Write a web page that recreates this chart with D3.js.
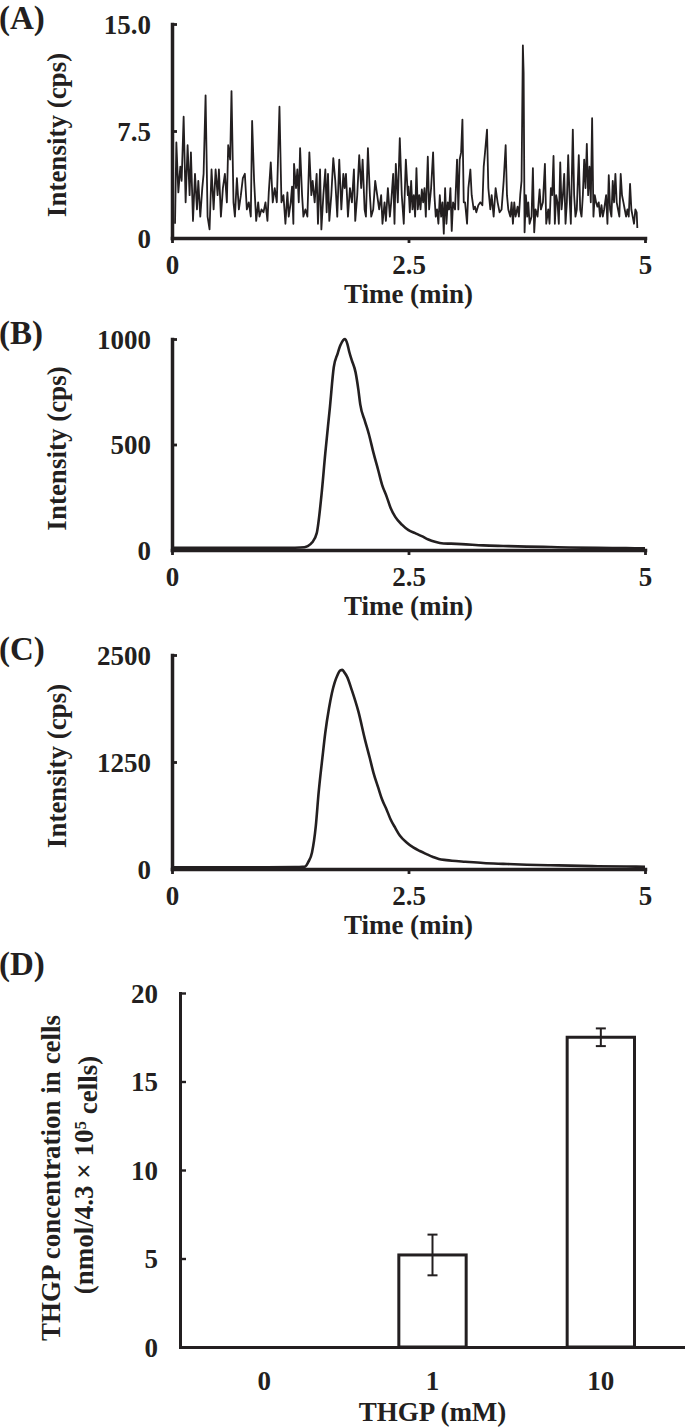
<!DOCTYPE html>
<html><head><meta charset="utf-8">
<script src="https://cdn.jsdelivr.net/npm/d3@7"></script>
<style>body{margin:0;background:#fff}svg{display:block}</style>
</head><body>
<script>
// ---------- DATA ----------
// Panel A: noisy trace (time in min, intensity in cps)
const timeA = [0.032,0.046,0.067,0.088,0.102,0.123,0.144,0.165,0.186,0.200,0.222,0.243,0.264,0.278,0.299,0.320,0.334,0.355,0.376,0.397,0.418,0.440,0.461,0.482,0.496,0.517,0.538,0.559,0.580,0.594,0.615,0.629,0.650,0.665,0.686,0.707,0.728,0.749,0.770,0.791,0.812,0.833,0.847,0.868,0.890,0.911,0.925,0.946,0.967,0.988,1.009,1.023,1.044,1.065,1.086,1.108,1.136,1.157,1.178,1.199,1.220,
1.234,1.255,1.269,1.283,1.290,1.311,1.325,1.340,1.354,1.375,1.389,1.410,1.431,1.452,1.473,1.487,1.508,1.529,1.543,1.565,1.579,1.600,1.621,1.635,1.649,1.663,1.684,1.705,1.726,1.747,1.768,1.790,1.811,1.825,1.839,1.860,1.881,1.902,1.923,1.937,1.958,1.979,2.000,2.015,2.036,2.050,2.071,2.092,2.106,2.127,2.148,2.169,2.190,2.211,2.225,2.247,2.261,2.282,2.303,2.317,2.338,2.352,2.366,2.387,2.408,2.429,2.450,2.472,2.493,
2.500,2.514,2.528,2.542,2.556,2.570,2.584,2.598,2.613,2.627,2.641,2.655,2.669,2.683,2.704,2.718,2.739,2.760,2.774,2.788,2.802,2.816,2.831,2.845,2.859,2.873,2.887,2.901,2.915,2.929,2.943,2.957,2.971,2.992,3.013,3.027,3.041,3.056,3.070,3.084,3.098,3.119,3.133,3.154,3.168,3.189,3.203,3.217,3.238,3.259,3.281,3.295,3.309,3.330,3.344,3.365,3.379,3.400,3.421,3.442,3.463,3.484,3.506,3.527,3.541,3.555,3.576,3.590,3.604,3.618,3.632,3.653,3.667,3.681,3.695,3.709,3.717,3.727,3.741,3.755,
3.766,3.780,3.801,3.815,3.829,3.843,3.864,3.886,3.900,3.921,3.942,3.956,3.977,3.991,4.005,4.019,4.033,4.047,4.061,4.075,4.089,4.104,4.118,4.132,4.146,4.160,4.174,4.188,4.202,4.216,4.237,4.251,4.265,4.279,4.300,4.315,4.329,4.343,4.357,4.371,4.385,4.399,4.413,4.427,4.441,4.455,4.469,4.483,4.497,4.511,4.525,4.540,4.554,4.568,4.589,4.603,4.617,4.631,4.645,4.659,4.673,4.687,4.701,4.715,4.729,4.743,4.757,4.772,4.786,4.800,4.814,4.828,4.842,4.856,4.870,4.884,4.898,4.912,4.919];
const intensityA = [1.0,6.7,3.2,5.0,4.0,8.5,2.5,6.5,3.0,6.0,1.2,4.5,2.0,4.0,1.5,3.5,4.5,10.0,1.5,0.6,4.8,2.0,4.8,3.0,4.8,1.5,3.5,4.5,2.5,6.5,5.5,10.3,2.5,1.5,4.2,2.0,3.0,4.2,4.5,2.0,2.5,1.5,8.2,4.0,1.2,2.5,1.5,2.0,1.8,2.5,1.2,3.2,5.3,2.5,3.5,2.5,9.2,2.5,3.0,1.0,3.2,
1.5,2.5,3.6,1.0,5.2,3.5,4.8,2.5,6.3,3.0,1.5,2.0,1.5,6.0,3.0,4.0,2.5,4.5,1.0,4.8,0.6,3.0,4.8,1.8,4.5,1.2,3.0,5.6,4.0,1.5,5.5,2.0,4.5,3.5,4.5,1.5,3.5,2.5,4.8,1.2,3.0,5.8,3.5,5.5,2.0,1.5,6.3,3.0,1.5,2.0,4.0,3.0,2.0,3.0,1.0,2.5,1.2,3.5,1.5,2.5,4.5,1.0,5.2,2.5,7.0,3.0,1.0,5.5,3.0,
3.6,1.8,4.0,2.0,3.0,1.5,4.9,2.0,3.0,2.0,3.4,2.5,3.5,1.5,5.7,2.0,3.5,6.0,3.0,1.5,2.0,1.0,3.0,1.5,2.5,0.3,3.5,1.0,2.5,2.0,3.5,0.5,2.5,2.0,5.5,2.0,5.5,6.0,8.3,2.5,2.5,1.0,3.5,4.8,3.0,2.0,2.2,1.8,2.3,2.5,2.3,5.0,6.0,7.6,3.5,2.0,3.0,1.5,3.5,2.5,1.8,2.0,4.0,6.5,3.0,2.0,1.5,2.5,1.0,2.5,1.5,2.2,1.5,3.0,4.0,13.5,11.6,0.4,3.0,1.5,
2.5,1.0,1.5,4.9,0.4,2.0,1.5,3.4,2.0,2.5,5.2,1.0,2.0,1.0,3.5,3.0,5.75,1.0,3.0,2.5,1.0,5.3,2.0,3.0,4.5,1.0,2.5,5.8,3.0,1.0,7.6,3.0,1.5,2.0,5.8,2.0,1.5,3.0,5.5,3.5,6.6,3.0,5.0,2.5,8.4,1.5,3.0,2.5,2.2,2.5,1.5,2.3,1.5,2.0,3.0,1.0,4.4,2.0,1.5,4.0,2.5,4.5,2.5,2.0,1.5,4.5,3.0,2.5,2.0,1.5,2.0,1.5,3.8,2.0,1.5,1.0,2.0,1.8,0.7];

// Panel B
const timeB = [0,0.5,1.0,1.3,1.40,1.435,1.48,1.53,1.58,1.62,1.67,1.71,1.75,1.78,1.81,1.83,1.855,1.875,1.90,1.94,1.97,1.99,2.04,2.08,2.13,2.18,2.22,2.27,2.31,2.36,2.43,2.5,2.57,2.64,2.71,2.78,2.87,2.95,3.06,3.29,3.5,3.75,4.0,4.2,4.5,4.8,5.0];
const intensityB = [10,10,10,11,13,18,35,80,260,457,680,866,930,970,995,1000,975,937,900,843,760,690,610,551,460,378,310,252,200,157,120,94,80,66,50,39,31,30,28,22,19,16,14,12,10,9,8];

// Panel C
const timeC = [0,0.5,1.0,1.3,1.38,1.41,1.44,1.48,1.52,1.55,1.59,1.62,1.66,1.69,1.72,1.75,1.78,1.80,1.82,1.85,1.9,1.97,2.04,2.09,2.13,2.18,2.22,2.27,2.31,2.36,2.41,2.48,2.55,2.62,2.69,2.76,2.82,2.9,2.96,3.1,3.29,3.5,3.75,4.0,4.21,4.5,4.8,5.0];
const intensityC = [20,20,20,22,25,30,80,194,500,891,1300,1589,1880,2054,2180,2267,2320,2326,2300,2248,2093,1841,1512,1300,1124,950,814,690,581,480,388,310,252,210,174,140,116,104,97,85,70,60,50,44,39,33,29,27];

// Tick values / labels
const timeTicks = [0, 2.5, 5];
const timeTickLabels = ["0", "2.5", "5"];
const yTicksA = [0, 7.5, 15];
const yTickLabelsA = ["0", "7.5", "15.0"];
const yTicksB = [0, 500, 1000];
const yTickLabelsB = ["0", "500", "1000"];
const yTicksC = [0, 1250, 2500];
const yTickLabelsC = ["0", "1250", "2500"];

// Panel D
const categoriesD = ["0", "1", "10"];
const meansD = [0, 5.2, 17.5];
const errorsD = [0, 1.15, 0.5];
const yTicksD = [0, 5, 10, 15, 20];

// ---------- DRAW ----------
const INK = "#231f20";
const FONT = "'Liberation Serif','Times New Roman',serif";
const svg = d3.select("body").append("svg").attr("width", 685).attr("height", 1428)
  .style("font-family", FONT).style("font-weight", "bold");
svg.append("rect").attr("width", 685).attr("height", 1428).attr("fill", "#fff");

function styleAxis(g, sw) {
  g.select(".domain").attr("stroke", INK).attr("stroke-width", sw).attr("stroke-linecap", "square");
  g.selectAll(".tick line").attr("stroke", INK).attr("stroke-width", sw * 0.8);
  g.selectAll(".tick text").attr("fill", INK).style("font-size", "27px")
    .style("font-family", FONT).style("font-weight", "bold");
}

function tracePanel(cfg) {
  const x = d3.scaleLinear().domain([0, 5]).range([172, 645]);
  const y = d3.scaleLinear().domain([0, cfg.ymax]).range([cfg.bottom, cfg.top]);
  const g = svg.append("g");
  g.append("text").attr("x", -1).attr("y", cfg.top + 5).attr("fill", INK)
    .style("font-size", "33px").text(cfg.label);
  // line
  const data = cfg.times.map((t, i) => [t, cfg.values[i]]);
  g.append("path").datum(data)
    .attr("fill", "none").attr("stroke", INK).attr("stroke-width", cfg.lw)
    .attr("stroke-linejoin", "round")
    .attr("d", d3.line().curve(cfg.curve || d3.curveLinear).x(d => x(d[0])).y(d => y(d[1])));
  // y axis
  const ya = g.append("g").attr("transform", `translate(${x(0)},0)`)
    .call(d3.axisLeft(y).tickValues(cfg.yTicks).tickFormat((d, i) => cfg.yLabels[i])
      .tickSize(-5).tickSizeOuter(0).tickPadding(21));
  styleAxis(ya, 3.5);
  ya.selectAll(".tick text").attr("dy", "0.35em");
  // x axis
  const xa = g.append("g").attr("transform", `translate(0,${cfg.bottom})`)
    .call(d3.axisBottom(x).tickValues(timeTicks).tickFormat((d, i) => timeTickLabels[i])
      .tickSize(5).tickSizeOuter(0).tickPadding(12));
  styleAxis(xa, 3.5);
  xa.selectAll(".tick text").attr("dy", "0.71em");
  g.append("text").attr("x", x(2.5)).attr("y", cfg.bottom + 65).attr("text-anchor", "middle")
    .attr("fill", INK).style("font-size", "27px").text("Time (min)");
  g.append("text").attr("transform", `translate(66,${(cfg.top + cfg.bottom) / 2 + 4}) rotate(-90)`)
    .attr("text-anchor", "middle").attr("fill", INK).style("font-size", "27px").text("Intensity (cps)");
}

tracePanel({label: "(A)", times: timeA, values: intensityA, ymax: 15, yTicks: yTicksA, yLabels: yTickLabelsA, top: 24, bottom: 238, lw: 1.8});
tracePanel({label: "(B)", times: timeB, values: intensityB, ymax: 1000, yTicks: yTicksB, yLabels: yTickLabelsB, top: 339, bottom: 550, lw: 2.6, curve: d3.curveMonotoneX});
tracePanel({label: "(C)", times: timeC, values: intensityC, ymax: 2500, yTicks: yTicksC, yLabels: yTickLabelsC, top: 655, bottom: 869, lw: 2.6, curve: d3.curveMonotoneX});

// Panel D
(function () {
  const left = 180, right = 685, top = 993, bottom = 1347;
  const x = d3.scaleBand().domain(categoriesD).range([left, right]);
  const y = d3.scaleLinear().domain([0, 20]).range([bottom, top]);
  const g = svg.append("g");
  g.append("text").attr("x", -1).attr("y", 975).attr("fill", INK).style("font-size", "33px").text("(D)");
  const bw = x.bandwidth() * 0.4;
  g.selectAll("rect.bar").data(meansD).join("rect").attr("class", "bar")
    .attr("x", (d, i) => x(categoriesD[i]) + x.bandwidth() / 2 - bw / 2)
    .attr("y", d => y(d)).attr("width", bw).attr("height", d => y(0) - y(d))
    .attr("fill", "#fff").attr("stroke", INK).attr("stroke-width", 3);
  meansD.forEach((m, i) => {
    if (!errorsD[i]) return;
    const cx = x(categoriesD[i]) + x.bandwidth() / 2;
    g.append("line").attr("x1", cx).attr("x2", cx).attr("y1", y(m - errorsD[i])).attr("y2", y(m + errorsD[i]))
      .attr("stroke", INK).attr("stroke-width", 2);
    [m - errorsD[i], m + errorsD[i]].forEach(v => g.append("line")
      .attr("x1", cx - 5).attr("x2", cx + 5).attr("y1", y(v)).attr("y2", y(v))
      .attr("stroke", INK).attr("stroke-width", 2));
  });
  const ya = g.append("g").attr("transform", `translate(${left},0)`)
    .call(d3.axisLeft(y).tickValues(yTicksD).tickSize(-6).tickSizeOuter(0).tickPadding(22));
  styleAxis(ya, 3);
  ya.selectAll(".tick text").attr("dy", "0.35em");
  const xa = g.append("g").attr("transform", `translate(0,${bottom})`)
    .call(d3.axisBottom(x).tickSize(0).tickSizeOuter(0).tickPadding(24));
  styleAxis(xa, 3);
  xa.selectAll(".tick text").attr("dy", "0.71em");
  g.append("text").attr("x", x("1") + x.bandwidth() / 2).attr("y", 1421).attr("text-anchor", "middle")
    .attr("fill", INK).style("font-size", "27px").text("THGP (mM)");
  g.append("text").attr("transform", `translate(60,1178) rotate(-90)`).attr("text-anchor", "middle")
    .attr("fill", INK).style("font-size", "27px").text("THGP concentration in cells");
  const t2 = g.append("text").attr("transform", `translate(93,1175) rotate(-90)`).attr("text-anchor", "middle")
    .attr("fill", INK).style("font-size", "27px");
  t2.append("tspan").text("(nmol/4.3 × 10");
  t2.append("tspan").attr("dy", "-0.4em").style("font-size", "17px").text("5");
  t2.append("tspan").attr("dy", "0.4em").text(" cells)");
})();
</script>
</body></html>
